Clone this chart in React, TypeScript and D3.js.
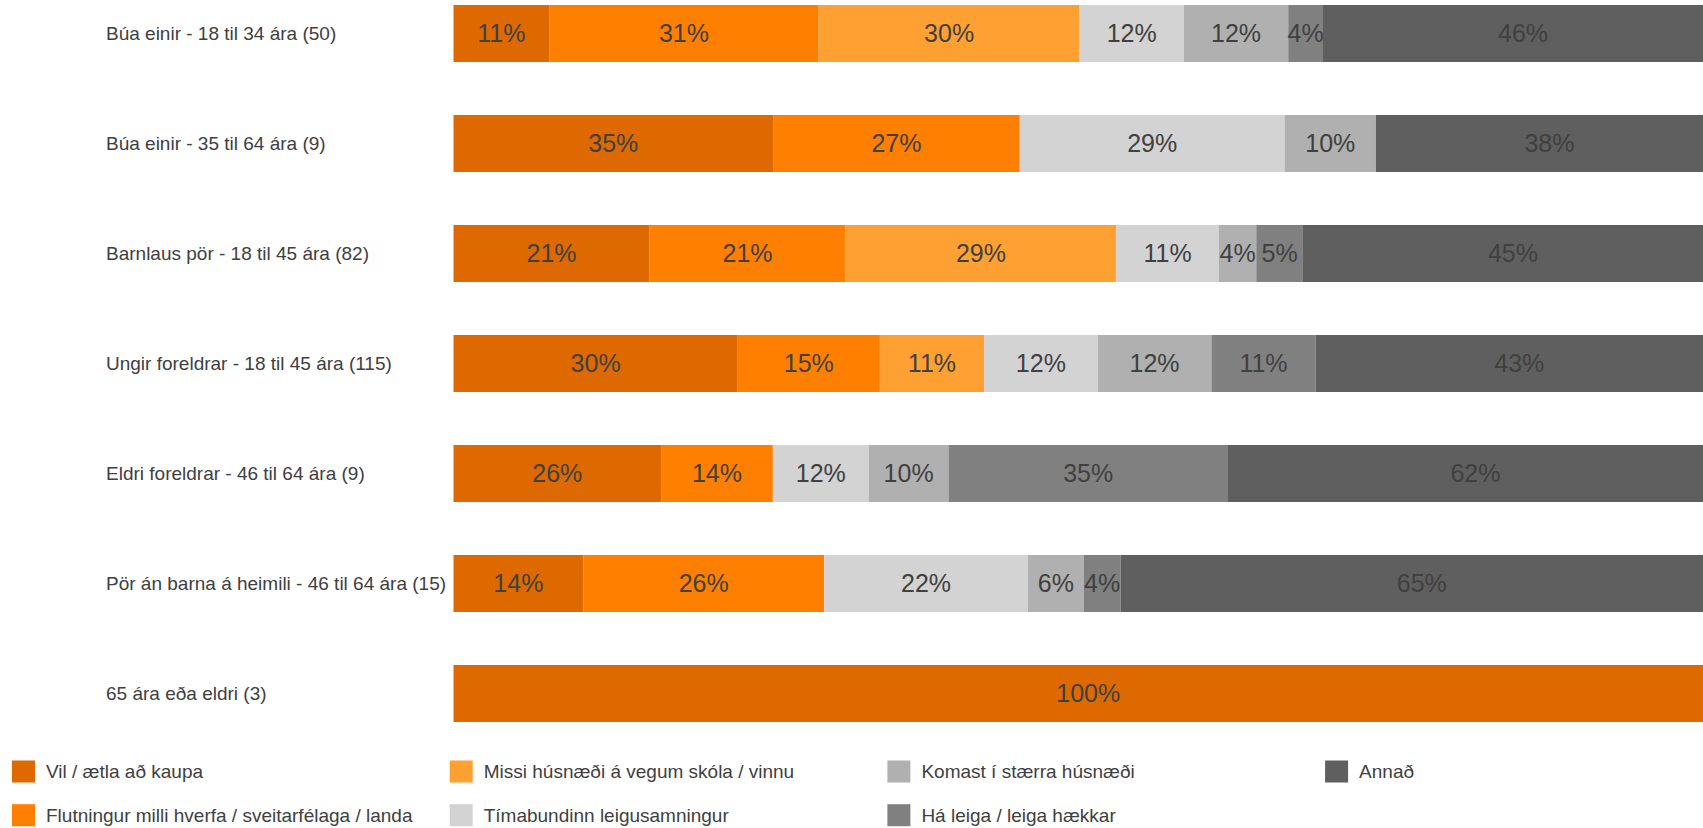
import React from "react";
import * as d3 from "d3";

const categories = [
  "Búa einir - 18 til 34 ára (50)",
  "Búa einir - 35 til 64 ára (9)",
  "Barnlaus pör - 18 til 45 ára (82)",
  "Ungir foreldrar - 18 til 45 ára (115)",
  "Eldri foreldrar - 46 til 64 ára (9)",
  "Pör án barna á heimili - 46 til 64 ára (15)",
  "65 ára eða eldri (3)",
];

const seriesNames = [
  "Vil / ætla að kaupa",
  "Flutningur milli hverfa / sveitarfélaga / landa",
  "Missi húsnæði á vegum skóla / vinnu",
  "Tímabundinn leigusamningur",
  "Komast í stærra húsnæði",
  "Há leiga / leiga hækkar",
  "Annað",
];

const vil = [11, 35, 21, 30, 26, 14, 100];
const flutningur = [31, 27, 21, 15, 14, 26, 0];
const missi = [30, 0, 29, 11, 0, 0, 0];
const timabundinn = [12, 29, 11, 12, 12, 22, 0];
const komast = [12, 10, 4, 12, 10, 6, 0];
const haLeiga = [4, 0, 5, 11, 35, 4, 0];
const annad = [46, 38, 45, 43, 62, 65, 0];

const seriesValues = [vil, flutningur, missi, timabundinn, komast, haLeiga, annad];

const colors = ["#DD6900", "#FF7F00", "#FFA033", "#D3D3D3", "#B0B0B0", "#808080", "#5F5F5F"];

const W = 1703;
const H = 828;
const FONT = "'Liberation Sans', Arial, sans-serif";

export default function App() {
  const rows = categories.map((c, i) => {
    const o: Record<string, any> = { cat: c };
    seriesNames.forEach((s, j) => (o[s] = seriesValues[j][i]));
    return o;
  });
  const stacked = d3.stack<any>().keys(seriesNames).offset(d3.stackOffsetExpand)(rows);

  // plot area continues slightly past the right edge of the picture (clipped)
  const x = d3.scaleLinear().domain([0, 1]).range([453.5, 1723]);
  const y = d3
    .scaleBand<string>()
    .domain(categories)
    .range([5 - 26.5, 5 - 26.5 + 770])
    .paddingInner(53 / 110)
    .paddingOuter(53 / 110 / 2);

  return (
    <svg
      width={W}
      height={H}
      style={{ position: "absolute", left: 0, top: 0, display: "block", background: "#fff" }}
      fontFamily={FONT}
    >
      {stacked.map((layer, j) => (
        <g key={j}>
          {layer.map((d, i) => {
            const v = seriesValues[j][i];
            if (!v) return null;
            const x0 = x(d[0]);
            const x1 = x(d[1]);
            const yy = y(categories[i])!;
            return (
              <rect key={i} x={x0} y={yy} width={x1 - x0} height={y.bandwidth()} fill={colors[j]} />
            );
          })}
        </g>
      ))}
      {stacked.map((layer, j) => (
        <g key={"t" + j}>
          {layer.map((d, i) => {
            const v = seriesValues[j][i];
            if (!v) return null;
            const x0 = x(d[0]);
            const x1 = x(d[1]);
            const yy = y(categories[i])! + y.bandwidth() / 2;
            return (
              <text
                key={i}
                x={(x0 + x1) / 2}
                y={yy}
                dy="0.35em"
                textAnchor="middle"
                fontSize={25}
                fill="#404040"
              >
                {v + "%"}
              </text>
            );
          })}
        </g>
      ))}
      {categories.map((c) => (
        <text
          key={c}
          x={106}
          y={y(c)! + y.bandwidth() / 2}
          dy="0.35em"
          fontSize={19}
          fill="#404040"
        >
          {c}
        </text>
      ))}
      {seriesNames.map((s, j) => {
        const col = Math.floor(j / 2);
        const row = j % 2;
        const lx = 12 + col * 437.7;
        const ly = 760.5 + row * 43.7;
        return (
          <g key={s} transform={`translate(${lx},${ly})`}>
            <rect x={0} y={0} width={23} height={22} fill={colors[j]} />
            <text x={34} y={11} dy="0.35em" fontSize={19} fill="#404040">
              {s}
            </text>
          </g>
        );
      })}
    </svg>
  );
}
